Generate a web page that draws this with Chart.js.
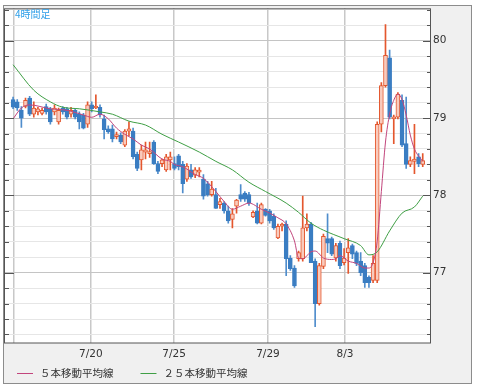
<!DOCTYPE html>
<html lang="ja">
<head>
<meta charset="utf-8">
<title>4時間足</title>
<script src="https://cdn.jsdelivr.net/npm/chart.js@4.4.1/dist/chart.umd.min.js"></script>
<style>
  html, body { margin: 0; padding: 0; background: #fff; }
  #wrap { position: relative; width: 478px; height: 389px; }
</style>
</head>
<body>
<div id="wrap"><canvas id="fxChart"></canvas></div>
<script>
/* ── ローソク足 (4時間足, 古い順) ───────────────────── */
const opens = [
  79.24, 79.21, 79.10, 79.15, 79.26, 79.05, 79.08, 79.06, 79.15, 79.12,
  79.08, 78.95, 79.13, 79.12, 79.05, 79.10, 79.05, 79.04, 78.92, 79.17,
  79.13, 79.14, 78.99, 78.86, 78.86, 78.76, 78.78, 78.65, 78.83, 78.83,
  78.53, 78.46, 78.56, 78.54, 78.69, 78.41, 78.41, 78.33, 78.46, 78.41,
  78.51, 78.40, 78.21, 78.33, 78.26, 78.30, 78.21, 78.15, 78.01, 78.01,
  77.88, 77.90, 77.80, 77.69, 77.86, 78.01, 78.03, 78.01, 77.72, 77.80,
  77.64, 77.82, 77.80, 77.73, 77.45, 77.60, 77.63, 77.19, 77.06, 77.18,
  77.18, 77.58, 77.63, 77.15, 76.60, 77.08, 77.44, 77.44, 77.19, 77.38,
  77.13, 77.26, 77.35, 77.26, 77.15, 77.09, 76.94, 76.90, 76.90, 78.92,
  79.42, 79.78, 78.99, 79.01, 79.23, 78.67, 78.40, 78.44, 78.50, 78.40
];
const highs = [
  79.27, 79.24, 79.15, 79.26, 79.28, 79.21, 79.14, 79.13, 79.18, 79.14,
  79.17, 79.13, 79.15, 79.14, 79.14, 79.12, 79.08, 79.06, 79.21, 79.21,
  79.30, 79.17, 79.04, 78.90, 78.91, 78.82, 78.81, 78.85, 78.95, 78.87,
  78.56, 78.65, 78.69, 78.69, 78.71, 78.44, 78.47, 78.53, 78.56, 78.50,
  78.53, 78.44, 78.41, 78.40, 78.36, 78.36, 78.27, 78.18, 78.18, 78.09,
  77.96, 77.92, 77.86, 77.83, 77.95, 78.14, 78.05, 78.04, 77.80, 77.90,
  77.90, 77.83, 77.82, 77.76, 77.63, 77.64, 77.67, 77.22, 77.09, 77.28,
  77.99, 77.76, 77.65, 77.18, 77.12, 77.50, 77.76, 77.46, 77.38, 77.41,
  77.31, 77.44, 77.37, 77.28, 77.26, 77.12, 76.96, 77.22, 78.95, 79.46,
  80.21, 79.88, 79.04, 79.33, 79.30, 79.27, 78.50, 78.92, 78.54, 78.54
];
const lows = [
  79.12, 79.10, 78.88, 79.13, 79.03, 79.01, 79.04, 79.04, 79.05, 78.92,
  79.04, 78.92, 79.05, 78.99, 79.01, 78.99, 78.86, 78.86, 78.88, 79.08,
  79.12, 79.01, 78.73, 78.80, 78.69, 78.73, 78.67, 78.63, 78.77, 78.47,
  78.32, 78.33, 78.47, 78.49, 78.40, 78.28, 78.37, 78.31, 78.33, 78.33,
  78.33, 78.03, 78.18, 78.22, 78.23, 78.24, 77.95, 77.99, 77.99, 77.83,
  77.83, 77.77, 77.64, 77.58, 77.77, 77.92, 77.92, 77.87, 77.71, 77.63,
  77.63, 77.73, 77.64, 77.56, 77.44, 77.54, 76.96, 77.03, 76.81, 77.15,
  77.15, 77.54, 77.13, 76.30, 76.58, 77.05, 77.26, 77.22, 77.15, 77.05,
  77.10, 76.99, 77.18, 77.09, 76.96, 76.81, 76.81, 76.87, 76.87, 78.82,
  79.40, 78.99, 78.67, 78.99, 78.63, 78.35, 78.37, 78.28, 78.37, 78.37
];
const closes = [
  79.14, 79.13, 79.00, 79.23, 79.05, 79.13, 79.12, 79.10, 79.08, 78.95,
  79.13, 79.10, 79.08, 79.01, 79.10, 79.01, 78.95, 78.87, 79.17, 79.12,
  79.15, 79.04, 78.85, 78.82, 78.73, 78.78, 78.69, 78.83, 78.86, 78.50,
  78.35, 78.59, 78.59, 78.56, 78.41, 78.31, 78.46, 78.50, 78.50, 78.35,
  78.37, 78.15, 78.38, 78.24, 78.33, 78.32, 77.99, 78.01, 78.08, 77.83,
  77.92, 77.80, 77.67, 77.76, 77.94, 77.95, 77.95, 77.90, 77.78, 77.64,
  77.88, 77.74, 77.67, 77.58, 77.60, 77.63, 77.18, 77.05, 76.83, 77.26,
  77.58, 77.63, 77.13, 76.60, 77.09, 77.47, 77.38, 77.24, 77.35, 77.09,
  77.19, 77.32, 77.24, 77.12, 77.00, 76.87, 76.87, 77.12, 78.92, 79.42,
  79.81, 79.01, 79.01, 79.31, 78.65, 78.40, 78.45, 78.47, 78.41, 78.45
];

/* ── 移動平均線 (足の番号, 値) ───────────────────────── */
const ma5Index = [0, 2, 4, 9, 13, 17, 19, 21, 23, 25, 27, 29, 31, 33, 36, 38, 39, 41, 44, 46,
  49, 51, 53, 55, 57, 60, 62, 64, 66, 68, 69, 70, 72, 73, 75, 77, 78, 79, 81, 83,
  85, 86, 87, 88, 89, 90, 91, 92, 93, 94, 95, 96, 97, 99];
const ma5Value = [78.99, 79.13, 79.17, 79.12, 79.10, 79.04, 79.01, 79.05, 78.99, 78.87,
  78.79, 78.73, 78.65, 78.60, 78.47, 78.44, 78.40, 78.37, 78.27, 78.22,
  78.05, 77.92, 77.82, 77.86, 77.90, 77.82, 77.77, 77.71, 77.63, 77.41,
  77.19, 77.18, 77.27, 77.28, 77.19, 77.17, 77.18, 77.22, 77.15, 77.12,
  77.06, 77.06, 77.13, 77.41, 78.05, 78.69, 79.05, 79.23, 79.31, 79.24,
  79.04, 78.78, 78.60, 78.44];
const ma25Index = [0, 5, 9, 12, 16, 21, 24, 28, 32, 36, 40, 45, 49, 53, 57, 61, 66, 69, 72, 75,
  80, 84, 86, 88, 91, 94, 97, 99];
const ma25Value = [79.69, 79.36, 79.21, 79.14, 79.12, 79.08, 79.05, 78.96, 78.91, 78.79,
  78.69, 78.56, 78.44, 78.33, 78.17, 78.05, 77.90, 77.78, 77.64, 77.55,
  77.44, 77.35, 77.23, 77.27, 77.54, 77.77, 77.85, 77.99];

/* ── 目盛 ───────────────────────────────────────────── */
const dateTickIndex = [0.2, 18.8, 38.9, 61.6, 80.2];
const dateTickLabels = ['', '7/20', '7/25', '7/29', '8/3'];
const priceLabels = [77, 78, 79, 80];

const UP_LINE = '#e4572e';
const UP_FILL = '#f9cbbd';
const DOWN_FILL = '#3a7dc2';
const DOWN_WICK = '#4f8dcc';
const MA5_COLOR = '#c2457c';
const MA25_COLOR = '#3f9f45';

const isUp = i => closes[i] >= opens[i];
const isMajor = v => Math.abs(v - Math.round(v)) < 1e-6;

const gridValues = [];
for (let k = 381; k <= 402; k++) gridValues.push(k / 5);

const wickData = highs.map((h, i) => ({ x: i, y: [lows[i], h] }));
const bodyData = opens.map((o, i) => ({ x: i, y: [o, closes[i]] }));

const legendItems = [
  { text: '５本移動平均線', color: MA5_COLOR },
  { text: '２５本移動平均線', color: MA25_COLOR }
];

const framePlugin = {
    id: 'frame',
    beforeDraw(chart) {
        const { ctx, chartArea: a } = chart;
        ctx.save();
        ctx.fillStyle = '#f0f0f0';
        ctx.fillRect(3, 5, 469, 379);
        ctx.strokeStyle = '#8c8c8c';
        ctx.lineWidth = 1;
        ctx.strokeRect(3.5, 5.5, 468, 378);
        ctx.fillStyle = '#ffffff';
        ctx.fillRect(a.left, a.top, a.right - a.left, a.bottom - a.top);
        ctx.restore();
    },
    afterDraw(chart) {
        const { ctx, chartArea: a, scales } = chart;
        const y = scales.y;
        ctx.save();
        ctx.strokeStyle = '#555';
        ctx.lineWidth = 1;
        ctx.strokeRect(a.left + 0.5, a.top + 0.5, a.right - a.left - 1, a.bottom - a.top - 0.5);

        // inward tick marks on both sides
        ctx.beginPath();
        y.ticks.forEach(t => {
            const py = Math.round(y.getPixelForValue(t.value)) + 0.5;
            const major = isMajor(t.value);
            ctx.moveTo(a.left, py);
            ctx.lineTo(a.left + (major ? 10 : 5), py);
            ctx.moveTo(a.right, py);
            ctx.lineTo(a.right - (major ? 8 : 4), py);
        });
        ctx.stroke();

        // 足種
        ctx.font = "10px 'Noto Sans CJK JP'";
        ctx.fillStyle = '#2f9fe8';
        ctx.textBaseline = 'middle';
        ctx.fillText('4時間足', 15, 14);

        // 凡例
        ctx.font = "10.5px 'Noto Sans CJK JP'";
        let x = 17;
        const ly = 373;
        legendItems.forEach(item => {
            ctx.strokeStyle = item.color;
            ctx.beginPath();
            ctx.moveTo(x, ly + 0.5);
            ctx.lineTo(x + 16, ly + 0.5);
            ctx.stroke();
            ctx.fillStyle = '#333';
            ctx.fillText(item.text, x + 23, ly);
            x += 23 + ctx.measureText(item.text).width + 27;
        });
        ctx.restore();
    }
};

new Chart(document.getElementById('fxChart'), {
    type: 'bar',
    data: {
        datasets: [
            {
                type: 'line',
                label: '５本移動平均線',
                data: ma5Index.map((v, i) => ({ x: v, y: ma5Value[i] })),
                borderColor: MA5_COLOR,
                borderWidth: 1,
                pointRadius: 0,
                cubicInterpolationMode: 'monotone',
                order: 0
            },
            {
                type: 'line',
                label: '２５本移動平均線',
                data: ma25Index.map((v, i) => ({ x: v, y: ma25Value[i] })),
                borderColor: MA25_COLOR,
                borderWidth: 1,
                pointRadius: 0,
                cubicInterpolationMode: 'monotone',
                order: 0
            },
            {
                label: '実体',
                data: bodyData,
                backgroundColor: ctx => isUp(ctx.dataIndex) ? UP_FILL : DOWN_FILL,
                borderColor: ctx => isUp(ctx.dataIndex) ? UP_LINE : DOWN_FILL,
                borderWidth: 1,
                borderSkipped: false,
                barThickness: 4,
                minBarLength: 2,
                grouped: false,
                order: 1
            },
            {
                label: 'ヒゲ',
                data: wickData,
                backgroundColor: ctx => isUp(ctx.dataIndex) ? UP_LINE : DOWN_WICK,
                barThickness: 1,
                grouped: false,
                order: 2
            }
        ]
    },
    options: {
        responsive: true,
        maintainAspectRatio: false,
        animation: false,
        layout: { padding: { left: 4, top: 5, right: 6, bottom: 28 } },
        plugins: {
            legend: { display: false },
            tooltip: { enabled: false }
        },
        scales: {
            x: {
                type: 'linear',
                min: -2.2,
                max: 101,
                offset: false,
                afterBuildTicks: scale => { scale.ticks = dateTickIndex.map(v => ({ value: v })); },
                afterFit: scale => { scale.height = 18; },
                grid: { offset: false, color: '#c8c8c8', lineWidth: 1.5, drawTicks: false },
                border: { display: false },
                ticks: {
                    autoSkip: false,
                    maxRotation: 0,
                    padding: 5,
                    color: '#333',
                    font: { family: 'DejaVu Sans', size: 10.5 },
                    callback: (v, i) => dateTickLabels[i]
                }
            },
            y: {
                position: 'right',
                min: 76.09,
                max: 80.42,
                afterBuildTicks: scale => { scale.ticks = gridValues.map(v => ({ value: v })); },
                afterFit: scale => { scale.width = 41; },
                grid: {
                    color: ctx => isMajor(ctx.tick.value) ? '#c4c4c4' : '#e6e6e6',
                    drawTicks: false
                },
                border: { display: false },
                ticks: {
                    autoSkip: false,
                    padding: 2,
                    color: '#333',
                    font: { family: 'DejaVu Sans', size: 10.5 },
                    callback: v => (isMajor(v) && priceLabels.includes(Math.round(v))) ? String(Math.round(v)) : ''
                }
            }
        }
    },
    plugins: [framePlugin]
});
</script>
</body>
</html>
